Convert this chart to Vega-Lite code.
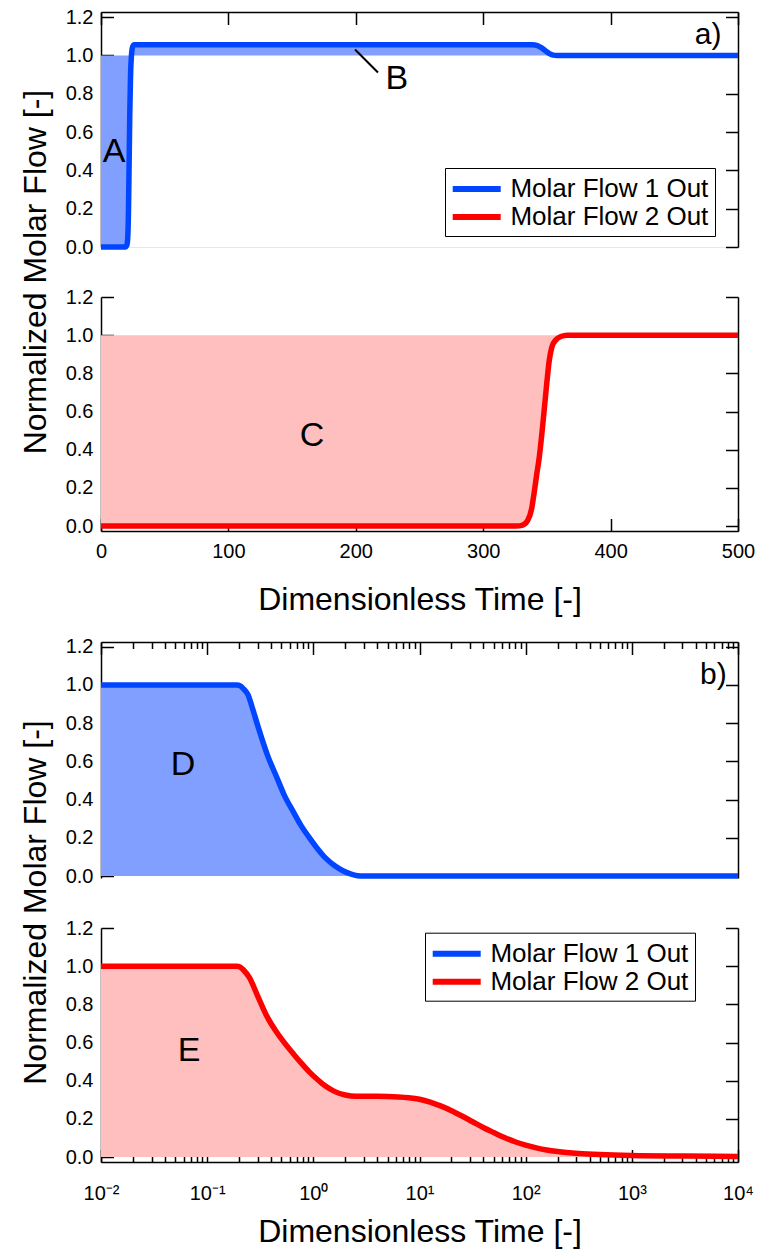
{
  "$schema": "https://vega.github.io/schema/vega-lite/v6.json",
  "background": "white",
  "padding": {"left": 19, "top": 7, "right": 4, "bottom": 4},
  "bounds": "flush",
  "spacing": 50,
  "config": {
    "font": "Liberation Sans",
    "view": {"stroke": null},
    "axis": {
      "grid": false,
      "domainColor": "black",
      "domainWidth": 1.5,
      "tickColor": "black",
      "tickWidth": 1.5,
      "tickSize": -12.5,
      "labelColor": "black",
      "labelFont": "Liberation Sans",
      "labelFontSize": 20,
      "labelFlush": false,
      "labelOverlap": false,
      "titleColor": "black",
      "titleFont": "Liberation Sans",
      "titleFontSize": 32,
      "titleFontWeight": "normal"
    },
    "legend": {
      "title": null,
      "symbolType": "M-2,0H2",
      "symbolSize": 576,
      "symbolStrokeWidth": 6,
      "symbolOffset": 10.7,
      "labelFont": "Liberation Sans",
      "labelFontSize": 26,
      "labelColor": "black",
      "labelLimit": 400,
      "labelOffset": 18.7,
      "padding": 6,
      "rowPadding": 0,
      "strokeColor": "black",
      "fillColor": "white"
    }
  },
  "resolve": {"scale": {"color": "independent"}, "legend": {"color": "independent"}},
  "vconcat": [
    {
      "width": 637,
      "height": 235,
      "resolve": {"axis": {"x": "independent", "y": "independent"}},
      "layer": [
        {
          "data": {"name": "flow1_linear"},
          "mark": {"type": "area", "color": "#809fff", "opacity": 1, "interpolate": "monotone"},
          "encoding": {
            "x": {"field": "t", "type": "quantitative", "scale": {"domain": [0, 500], "nice": false, "zero": false},
                  "axis": {"orient": "top", "values": [0, 100, 200, 300, 400, 500], "labels": false, "title": null}},
            "y": {"field": "v", "type": "quantitative", "scale": {"domain": [0, 1.227], "nice": false, "zero": false},
                  "axis": {"orient": "left", "values": [0, 0.2, 0.4, 0.6, 0.8, 1, 1.2], "format": ".1f", "labelPadding": 20.5,
                           "title": "Normalized Molar Flow [-]", "titleAngle": -90, "titleAlign": "center", "titleBaseline": "alphabetic",
                           "titleX": -55.7, "titleY": 259.5}},
            "y2": {"datum": 1}
          }
        },
        {
          "data": {"name": "flow1_linear"},
          "mark": {"type": "line", "strokeWidth": 5.5, "strokeJoin": "round", "interpolate": "monotone"},
          "encoding": {
            "x": {"field": "t", "type": "quantitative", "scale": {"domain": [0, 500], "nice": false, "zero": false},
                  "axis": {"orient": "bottom", "ticks": false, "labels": false, "title": null, "domainColor": "#dde6fb", "domainWidth": 1}},
            "y": {"field": "v", "type": "quantitative", "scale": {"domain": [0, 1.227], "nice": false, "zero": false},
                  "axis": {"orient": "right", "values": [0, 0.2, 0.4, 0.6, 0.8, 1, 1.2], "labels": false, "title": null}},
            "color": {"field": "series", "type": "nominal",
                      "scale": {"domain": ["Molar Flow 1 Out", "Molar Flow 2 Out"], "range": ["#0045ff", "#ff0000"]},
                      "legend": {"orient": "none", "legendX": 344, "legendY": 156}}
          }
        },
        {
          "data": {"values": [{"t": 199.4, "v": 1.031, "t2": 217.4, "v2": 0.911}]},
          "mark": {"type": "rule", "color": "black", "strokeWidth": 2},
          "encoding": {
            "x": {"field": "t", "type": "quantitative", "scale": {"domain": [0, 500], "nice": false, "zero": false}, "axis": null},
            "x2": {"field": "t2"},
            "y": {"field": "v", "type": "quantitative", "scale": {"domain": [0, 1.227], "nice": false, "zero": false}, "axis": null},
            "y2": {"field": "v2"}
          }
        },
        {
          "data": {"values": [{"t": 10.2, "v": 0.494, "label": "A"}, {"t": 232.3, "v": 0.878, "label": "B"}]},
          "mark": {"type": "text", "fontSize": 34, "color": "black", "align": "center", "baseline": "middle"},
          "encoding": {
            "x": {"field": "t", "type": "quantitative", "scale": {"domain": [0, 500], "nice": false, "zero": false}, "axis": null},
            "y": {"field": "v", "type": "quantitative", "scale": {"domain": [0, 1.227], "nice": false, "zero": false}, "axis": null},
            "text": {"field": "label"}
          }
        },
        {
          "data": {"values": [{"t": 476.6, "v": 1.105, "label": "a)"}]},
          "mark": {"type": "text", "fontSize": 30, "color": "black", "align": "center", "baseline": "middle"},
          "encoding": {
            "x": {"field": "t", "type": "quantitative", "scale": {"domain": [0, 500], "nice": false, "zero": false}, "axis": null},
            "y": {"field": "v", "type": "quantitative", "scale": {"domain": [0, 1.227], "nice": false, "zero": false}, "axis": null},
            "text": {"field": "label"}
          }
        }
      ]
    },
    {
      "width": 637,
      "height": 234,
      "resolve": {"axis": {"x": "independent", "y": "independent"}},
      "layer": [
        {
          "data": {"name": "flow2_linear"},
          "mark": {"type": "area", "color": "#ffbfbf", "opacity": 1, "interpolate": "monotone"},
          "encoding": {
            "x": {"field": "t", "type": "quantitative", "scale": {"domain": [0, 500], "nice": false, "zero": false},
                  "axis": {"orient": "bottom", "values": [0, 100, 200, 300, 400, 500], "labelPadding": 39.1, "labelBaseline": "alphabetic",
                           "title": "Dimensionless Time [-]", "titleX": 318.5, "titleY": 78.3, "titleAlign": "center", "titleBaseline": "alphabetic"}},
            "y": {"field": "v", "type": "quantitative", "scale": {"domain": [-0.026, 1.2], "nice": false, "zero": false},
                  "axis": {"orient": "left", "values": [0, 0.2, 0.4, 0.6, 0.8, 1, 1.2], "format": ".1f", "labelPadding": 20.5, "title": null}},
            "y2": {"datum": 1}
          }
        },
        {
          "data": {"name": "flow2_linear"},
          "mark": {"type": "line", "strokeWidth": 5.5, "strokeJoin": "round", "color": "#ff0000", "interpolate": "monotone"},
          "encoding": {
            "x": {"field": "t", "type": "quantitative", "scale": {"domain": [0, 500], "nice": false, "zero": false}, "axis": null},
            "y": {"field": "v", "type": "quantitative", "scale": {"domain": [-0.026, 1.2], "nice": false, "zero": false},
                  "axis": {"orient": "right", "values": [0, 0.2, 0.4, 0.6, 0.8, 1, 1.2], "labels": false, "title": null}}
          }
        },
        {
          "data": {"values": [{"t": 165.6, "v": 0.47, "label": "C"}]},
          "mark": {"type": "text", "fontSize": 34, "color": "black", "align": "center", "baseline": "middle"},
          "encoding": {
            "x": {"field": "t", "type": "quantitative", "scale": {"domain": [0, 500], "nice": false, "zero": false}, "axis": null},
            "y": {"field": "v", "type": "quantitative", "scale": {"domain": [-0.026, 1.2], "nice": false, "zero": false}, "axis": null},
            "text": {"field": "label"}
          }
        }
      ]
    },
    {
      "width": 637,
      "height": 11,
      "data": {"values": []},
      "mark": "point"
    },
    {
      "width": 637,
      "height": 236,
      "resolve": {"axis": {"x": "independent", "y": "independent"}},
      "layer": [
        {
          "data": {"name": "flow1_log"},
          "mark": {"type": "area", "color": "#809fff", "opacity": 1, "interpolate": "monotone"},
          "encoding": {
            "x": {"field": "t", "type": "quantitative", "scale": {"type": "log", "domain": [0.01, 10000], "nice": false},
                  "axis": {"orient": "top", "values": [0.01, 0.1, 1, 10, 100, 1000, 10000], "labels": false, "title": null}},
            "y": {"field": "v", "type": "quantitative", "scale": {"domain": [-0.01, 1.225], "nice": false, "zero": false},
                  "axis": {"orient": "left", "values": [0, 0.2, 0.4, 0.6, 0.8, 1, 1.2], "format": ".1f", "labelPadding": 20.5,
                           "title": "Normalized Molar Flow [-]", "titleAngle": -90, "titleAlign": "center", "titleBaseline": "alphabetic",
                           "titleX": -55.7, "titleY": 260}},
            "y2": {"datum": 0}
          }
        },
        {
          "data": {"name": "flow1_log"},
          "mark": {"type": "line", "strokeWidth": 5.5, "strokeJoin": "round", "color": "#0045ff", "interpolate": "monotone"},
          "encoding": {
            "x": {"field": "t", "type": "quantitative", "scale": {"type": "log", "domain": [0.01, 10000], "nice": false},
                  "axis": {"orient": "top", "values": [0.02, 0.03, 0.04, 0.05, 0.06, 0.07, 0.08, 0.09, 0.2, 0.3, 0.4, 0.5, 0.6, 0.7, 0.8, 0.9, 2, 3, 4, 5, 6, 7, 8, 9, 20, 30, 40, 50, 60, 70, 80, 90, 200, 300, 400, 500, 600, 700, 800, 900, 2000, 3000, 4000, 5000, 6000, 7000, 8000, 9000],
                           "tickSize": -6.5, "labels": false, "domain": false, "title": null}},
            "y": {"field": "v", "type": "quantitative", "scale": {"domain": [-0.01, 1.225], "nice": false, "zero": false},
                  "axis": {"orient": "right", "values": [0, 0.2, 0.4, 0.6, 0.8, 1, 1.2], "labels": false, "title": null}}
          }
        },
        {
          "data": {"values": [{"t": 0.0593, "v": 0.58, "label": "D"}]},
          "mark": {"type": "text", "fontSize": 34, "color": "black", "align": "center", "baseline": "middle"},
          "encoding": {
            "x": {"field": "t", "type": "quantitative", "scale": {"type": "log", "domain": [0.01, 10000], "nice": false}, "axis": null},
            "y": {"field": "v", "type": "quantitative", "scale": {"domain": [-0.01, 1.225], "nice": false, "zero": false}, "axis": null},
            "text": {"field": "label"}
          }
        },
        {
          "data": {"values": [{"t": 5861, "v": 1.051, "label": "b)"}]},
          "mark": {"type": "text", "fontSize": 30, "color": "black", "align": "center", "baseline": "middle"},
          "encoding": {
            "x": {"field": "t", "type": "quantitative", "scale": {"type": "log", "domain": [0.01, 10000], "nice": false}, "axis": null},
            "y": {"field": "v", "type": "quantitative", "scale": {"domain": [-0.01, 1.225], "nice": false, "zero": false}, "axis": null},
            "text": {"field": "label"}
          }
        }
      ]
    },
    {
      "width": 637,
      "height": 234,
      "resolve": {"axis": {"x": "independent", "y": "independent"}},
      "layer": [
        {
          "data": {"name": "flow2_log"},
          "mark": {"type": "area", "color": "#ffbfbf", "opacity": 1, "interpolate": "monotone"},
          "encoding": {
            "x": {"field": "t", "type": "quantitative", "scale": {"type": "log", "domain": [0.01, 10000], "nice": false},
                  "axis": {"orient": "bottom", "values": [0.01, 0.1, 1, 10, 100, 1000, 10000], "labelPadding": 50.2, "labelBaseline": "alphabetic",
                           "labelExpr": "datum.value < 0.05 ? '10⁻²' : datum.value < 0.5 ? '10⁻¹' : datum.value < 5 ? '10⁰' : datum.value < 50 ? '10¹' : datum.value < 500 ? '10²' : datum.value < 5000 ? '10³' : '10⁴'",
                           "title": "Dimensionless Time [-]", "titleX": 318.5, "titleY": 79.4, "titleAlign": "center", "titleBaseline": "alphabetic"}},
            "y": {"field": "v", "type": "quantitative", "scale": {"domain": [-0.026, 1.2], "nice": false, "zero": false},
                  "axis": {"orient": "left", "values": [0, 0.2, 0.4, 0.6, 0.8, 1, 1.2], "format": ".1f", "labelPadding": 20.5, "title": null}},
            "y2": {"datum": 0}
          }
        },
        {
          "data": {"name": "flow2_log"},
          "mark": {"type": "line", "strokeWidth": 5.5, "strokeJoin": "round", "interpolate": "monotone"},
          "encoding": {
            "x": {"field": "t", "type": "quantitative", "scale": {"type": "log", "domain": [0.01, 10000], "nice": false},
                  "axis": {"orient": "bottom", "values": [0.02, 0.03, 0.04, 0.05, 0.06, 0.07, 0.08, 0.09, 0.2, 0.3, 0.4, 0.5, 0.6, 0.7, 0.8, 0.9, 2, 3, 4, 5, 6, 7, 8, 9, 20, 30, 40, 50, 60, 70, 80, 90, 200, 300, 400, 500, 600, 700, 800, 900, 2000, 3000, 4000, 5000, 6000, 7000, 8000, 9000],
                           "tickSize": -6.5, "labels": false, "domain": false, "title": null}},
            "y": {"field": "v", "type": "quantitative", "scale": {"domain": [-0.026, 1.2], "nice": false, "zero": false},
                  "axis": {"orient": "right", "values": [0, 0.2, 0.4, 0.6, 0.8, 1, 1.2], "labels": false, "title": null}},
            "color": {"field": "series", "type": "nominal",
                      "scale": {"domain": ["Molar Flow 1 Out", "Molar Flow 2 Out"], "range": ["#0045ff", "#ff0000"]},
                      "legend": {"orient": "none", "legendX": 324, "legendY": 4.7}}
          }
        },
        {
          "data": {"values": [{"t": 0.0675, "v": 0.557, "label": "E"}]},
          "mark": {"type": "text", "fontSize": 34, "color": "black", "align": "center", "baseline": "middle"},
          "encoding": {
            "x": {"field": "t", "type": "quantitative", "scale": {"type": "log", "domain": [0.01, 10000], "nice": false}, "axis": null},
            "y": {"field": "v", "type": "quantitative", "scale": {"domain": [-0.026, 1.2], "nice": false, "zero": false}, "axis": null},
            "text": {"field": "label"}
          }
        }
      ]
    }
  ],
  "datasets": {
    "flow1_linear": [
      {"series": "Molar Flow 1 Out", "t": 0, "v": 0},
      {"series": "Molar Flow 1 Out", "t": 19, "v": 0},
      {"series": "Molar Flow 1 Out", "t": 20.3, "v": 0.01},
      {"series": "Molar Flow 1 Out", "t": 21, "v": 0.05},
      {"series": "Molar Flow 1 Out", "t": 21.6, "v": 0.2},
      {"series": "Molar Flow 1 Out", "t": 22.1, "v": 0.45},
      {"series": "Molar Flow 1 Out", "t": 22.6, "v": 0.7},
      {"series": "Molar Flow 1 Out", "t": 23.2, "v": 0.9},
      {"series": "Molar Flow 1 Out", "t": 23.9, "v": 1.0},
      {"series": "Molar Flow 1 Out", "t": 24.8, "v": 1.045},
      {"series": "Molar Flow 1 Out", "t": 26, "v": 1.056},
      {"series": "Molar Flow 1 Out", "t": 339, "v": 1.056},
      {"series": "Molar Flow 1 Out", "t": 342, "v": 1.053},
      {"series": "Molar Flow 1 Out", "t": 345, "v": 1.043},
      {"series": "Molar Flow 1 Out", "t": 349, "v": 1.024},
      {"series": "Molar Flow 1 Out", "t": 352, "v": 1.01},
      {"series": "Molar Flow 1 Out", "t": 355, "v": 1.002},
      {"series": "Molar Flow 1 Out", "t": 358, "v": 1.0},
      {"series": "Molar Flow 1 Out", "t": 500, "v": 1.0}
    ],
    "flow2_linear": [
      {"series": "Molar Flow 2 Out", "t": 0, "v": 0},
      {"series": "Molar Flow 2 Out", "t": 326, "v": 0},
      {"series": "Molar Flow 2 Out", "t": 331, "v": 0.005},
      {"series": "Molar Flow 2 Out", "t": 335, "v": 0.03},
      {"series": "Molar Flow 2 Out", "t": 338, "v": 0.09},
      {"series": "Molar Flow 2 Out", "t": 340, "v": 0.175},
      {"series": "Molar Flow 2 Out", "t": 342, "v": 0.27},
      {"series": "Molar Flow 2 Out", "t": 344, "v": 0.36},
      {"series": "Molar Flow 2 Out", "t": 346.6, "v": 0.52},
      {"series": "Molar Flow 2 Out", "t": 349.2, "v": 0.7},
      {"series": "Molar Flow 2 Out", "t": 351.9, "v": 0.87},
      {"series": "Molar Flow 2 Out", "t": 354, "v": 0.94},
      {"series": "Molar Flow 2 Out", "t": 357, "v": 0.975},
      {"series": "Molar Flow 2 Out", "t": 361, "v": 0.993},
      {"series": "Molar Flow 2 Out", "t": 366, "v": 1.0},
      {"series": "Molar Flow 2 Out", "t": 500, "v": 1.0}
    ],
    "flow1_log": [
      {"series": "Molar Flow 1 Out", "t": 0.01, "v": 1},
      {"series": "Molar Flow 1 Out", "t": 0.19, "v": 1},
      {"series": "Molar Flow 1 Out", "t": 0.205, "v": 0.995},
      {"series": "Molar Flow 1 Out", "t": 0.22, "v": 0.98},
      {"series": "Molar Flow 1 Out", "t": 0.2416, "v": 0.951},
      {"series": "Molar Flow 1 Out", "t": 0.27, "v": 0.87},
      {"series": "Molar Flow 1 Out", "t": 0.3, "v": 0.786},
      {"series": "Molar Flow 1 Out", "t": 0.372, "v": 0.629},
      {"series": "Molar Flow 1 Out", "t": 0.45, "v": 0.52},
      {"series": "Molar Flow 1 Out", "t": 0.535, "v": 0.421},
      {"series": "Molar Flow 1 Out", "t": 0.65, "v": 0.335},
      {"series": "Molar Flow 1 Out", "t": 0.767, "v": 0.264},
      {"series": "Molar Flow 1 Out", "t": 0.92, "v": 0.2},
      {"series": "Molar Flow 1 Out", "t": 1.1, "v": 0.142},
      {"series": "Molar Flow 1 Out", "t": 1.3, "v": 0.095},
      {"series": "Molar Flow 1 Out", "t": 1.58, "v": 0.055},
      {"series": "Molar Flow 1 Out", "t": 1.9, "v": 0.028},
      {"series": "Molar Flow 1 Out", "t": 2.27, "v": 0.01},
      {"series": "Molar Flow 1 Out", "t": 2.6, "v": 0.002},
      {"series": "Molar Flow 1 Out", "t": 3.0, "v": 0},
      {"series": "Molar Flow 1 Out", "t": 10000, "v": 0}
    ],
    "flow2_log": [
      {"series": "Molar Flow 2 Out", "t": 0.01, "v": 1},
      {"series": "Molar Flow 2 Out", "t": 0.19, "v": 1},
      {"series": "Molar Flow 2 Out", "t": 0.205, "v": 0.995},
      {"series": "Molar Flow 2 Out", "t": 0.22, "v": 0.98},
      {"series": "Molar Flow 2 Out", "t": 0.25, "v": 0.94},
      {"series": "Molar Flow 2 Out", "t": 0.3, "v": 0.842},
      {"series": "Molar Flow 2 Out", "t": 0.372, "v": 0.729},
      {"series": "Molar Flow 2 Out", "t": 0.45, "v": 0.655},
      {"series": "Molar Flow 2 Out", "t": 0.535, "v": 0.598},
      {"series": "Molar Flow 2 Out", "t": 0.65, "v": 0.54},
      {"series": "Molar Flow 2 Out", "t": 0.767, "v": 0.493},
      {"series": "Molar Flow 2 Out", "t": 0.92, "v": 0.445},
      {"series": "Molar Flow 2 Out", "t": 1.1, "v": 0.405},
      {"series": "Molar Flow 2 Out", "t": 1.3, "v": 0.372},
      {"series": "Molar Flow 2 Out", "t": 1.58, "v": 0.344},
      {"series": "Molar Flow 2 Out", "t": 2.0, "v": 0.325},
      {"series": "Molar Flow 2 Out", "t": 2.5, "v": 0.318},
      {"series": "Molar Flow 2 Out", "t": 4.0, "v": 0.318},
      {"series": "Molar Flow 2 Out", "t": 6.3, "v": 0.315},
      {"series": "Molar Flow 2 Out", "t": 7.9, "v": 0.311},
      {"series": "Molar Flow 2 Out", "t": 10, "v": 0.303},
      {"series": "Molar Flow 2 Out", "t": 12.6, "v": 0.288},
      {"series": "Molar Flow 2 Out", "t": 15.8, "v": 0.268},
      {"series": "Molar Flow 2 Out", "t": 20, "v": 0.243},
      {"series": "Molar Flow 2 Out", "t": 25.1, "v": 0.215},
      {"series": "Molar Flow 2 Out", "t": 31.6, "v": 0.185},
      {"series": "Molar Flow 2 Out", "t": 39.8, "v": 0.155},
      {"series": "Molar Flow 2 Out", "t": 50.1, "v": 0.128},
      {"series": "Molar Flow 2 Out", "t": 63.1, "v": 0.102},
      {"series": "Molar Flow 2 Out", "t": 79.4, "v": 0.08},
      {"series": "Molar Flow 2 Out", "t": 100, "v": 0.062},
      {"series": "Molar Flow 2 Out", "t": 126, "v": 0.048},
      {"series": "Molar Flow 2 Out", "t": 158, "v": 0.037},
      {"series": "Molar Flow 2 Out", "t": 200, "v": 0.029},
      {"series": "Molar Flow 2 Out", "t": 316, "v": 0.019},
      {"series": "Molar Flow 2 Out", "t": 501, "v": 0.013},
      {"series": "Molar Flow 2 Out", "t": 1000, "v": 0.008},
      {"series": "Molar Flow 2 Out", "t": 3160, "v": 0.005},
      {"series": "Molar Flow 2 Out", "t": 10000, "v": 0.003}
    ]
  }
}
